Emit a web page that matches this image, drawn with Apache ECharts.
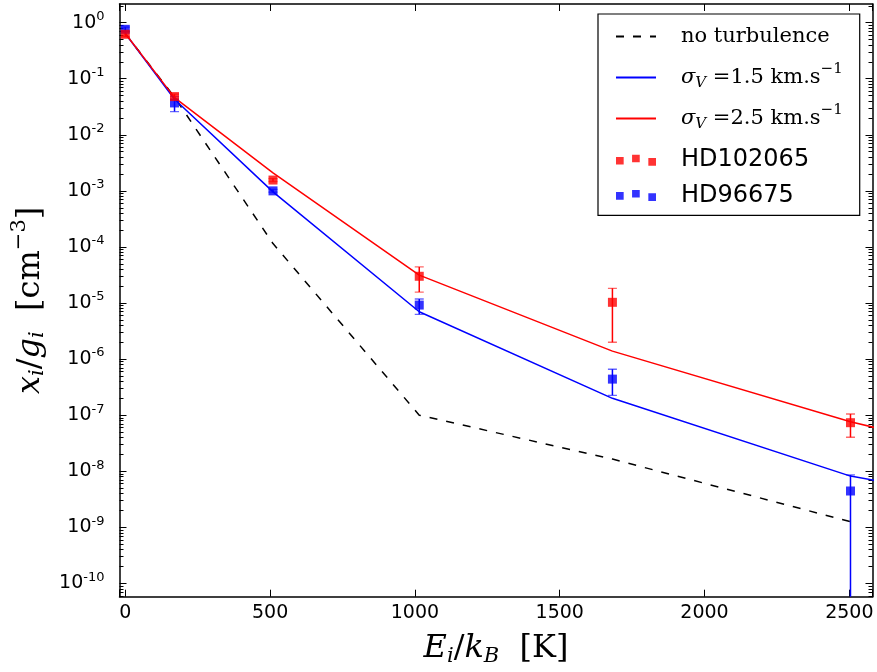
<!DOCTYPE html>
<html><head><meta charset="utf-8">
<script src="https://cdn.jsdelivr.net/npm/echarts@6/dist/echarts.min.js"></script>
<style>html,body{margin:0;padding:0;background:#fff}#c{width:877px;height:672px}</style>
</head><body><div id="c"></div>
<script>
// ---- data ----
const levelEnergies = [0, 170, 510, 1015, 1682, 2504, 3474];
const noTurbulence = [0.64, 0.047, 1.15e-4, 1.0e-7, 1.65e-8, 1.26e-9];
const sigma15 = [0.64, 0.043, 9.6e-4, 7.0e-6, 2.0e-7, 8.2e-9, 1.1e-9];
const sigma25 = [0.64, 0.046, 2.1e-3, 3.15e-5, 1.39e-6, 7.66e-8, 4.7e-9];

const obsEnergies = [0, 170, 510, 1015, 1682, 2504];
const hd102065 = [0.62, 0.048, 1.56e-3, 3.0e-5, 1.03e-5, 7.35e-8];
const hd102065Lo = [0.56, 0.043, 1.47e-3, 1.57e-5, 2.0e-6, 4.04e-8];
const hd102065Hi = [0.685, 0.053, 1.66e-3, 4.4e-5, 1.83e-5, 1.05e-7];
const hd96675 = [0.76, 0.037, 1.0e-3, 9.2e-6, 4.4e-7, 4.45e-9];
const hd96675Lo = [0.70, 0.026, 0.95e-3, 6.3e-6, 2.26e-7, 1e-13];
const hd96675Hi = [0.83, 0.048, 1.06e-3, 1.18e-5, 6.6e-7, 8.6e-9];

// tick definitions
const yMajorExponents = [-10, -9, -8, -7, -6, -5, -4, -3, -2, -1, 0];
const yMinorMultipliers = [2, 3, 4, 5, 6, 7, 8, 9];
const yMinorDecades = [-11, -10, -9, -8, -7, -6, -5, -4, -3, -2, -1, 0];
const xTickStep = 500;
const xMin = -20, xMax = 2580;
const yMin = 5.8e-11, yMax = 2.15;

// ---- build ----
const pairs = (xs, ys) => ys.map((y, i) => [xs[i], y]);
const triples = (xs, lo, hi) => xs.map((x, i) => [x, lo[i], hi[i]]);
const yMajorValues = yMajorExponents.map(e => Math.pow(10, e));
const yMinorValues = [];
yMinorDecades.forEach(d => yMinorMultipliers.forEach(m => {
  const v = m * Math.pow(10, d);
  if (v > yMin && v < yMax) yMinorValues.push(v);
}));

function errRender(color) {
  return function (params, api) {
    const x = api.value(0), lo = api.value(1), hi = api.value(2);
    const t = api.coord([x, hi]), b = api.coord([x, lo]);
    const hw = 4.5;
    return {
      type: 'group',
      children: [
        {type: 'line', shape: {x1: t[0], y1: t[1], x2: b[0], y2: b[1]}, style: {stroke: color, lineWidth: 1.5}},
        {type: 'line', shape: {x1: t[0] - hw, y1: t[1], x2: t[0] + hw, y2: t[1]}, style: {stroke: color, lineWidth: 1.3, opacity: 0.6}},
        {type: 'line', shape: {x1: b[0] - hw, y1: b[1], x2: b[0] + hw, y2: b[1]}, style: {stroke: color, lineWidth: 1.3, opacity: 0.6}}
      ]
    };
  };
}

const tickFont = {fontFamily: 'DejaVu Sans', color: '#000'};
const axisLineStyle = {color: '#000', width: 1.5};

function yLabel(v) {
  const e = Math.log10(v);
  const r = Math.round(e);
  if (Math.abs(e - r) > 1e-6) return '';
  return '{b|10}{s|' + (r === 0 ? '0' : '-' + (-r)) + '}';
}
function xLabel(v) {
  return (Math.abs(v % xTickStep) < 1e-9) ? String(v) : '';
}

const serif = 'DejaVu Serif';
const nameRich = {
  it: {fontFamily: serif, fontStyle: 'italic', fontSize: 32, color: '#000'},
  n: {fontFamily: serif, fontSize: 32, color: '#000'},
  sub: {fontFamily: serif, fontStyle: 'italic', fontSize: 21, color: '#000', padding: [15, 0, 0, 0]},
  sup: {fontFamily: serif, fontSize: 21, color: '#000', padding: [0, 0, 22, 0]}
};

const yAxisBase = {
  type: 'log', logBase: 10, min: yMin, max: yMax,
  axisLine: {show: true, onZero: false, lineStyle: axisLineStyle},
  axisTick: {show: true, inside: true, length: 7, customValues: yMajorValues, lineStyle: {color: '#000', width: 1}},
  splitLine: {show: false}
};
const yMinorAxisBase = {
  type: 'log', logBase: 10, min: yMin, max: yMax,
  axisLine: {show: false, onZero: false},
  axisTick: {show: true, inside: true, length: 4, customValues: yMinorValues, lineStyle: {color: '#000', width: 1}},
  axisLabel: {show: false},
  splitLine: {show: false}
};
const xAxisBase = {
  type: 'value', min: xMin, max: xMax, splitNumber: 5,
  axisLine: {show: true, onZero: false, lineStyle: axisLineStyle},
  axisTick: {show: true, inside: true, length: 7, lineStyle: {color: '#000', width: 1}},
  splitLine: {show: false}
};

const legendNames = {
  'no turbulence': '{g| }{n|no turbulence}',
  'sigma15': '{g| }{it|σ}{sub|V}{n| =1.5 km.s}{sup|−1}',
  'sigma25': '{g| }{it|σ}{sub|V}{n| =2.5 km.s}{sup|−1}',
  'HD102065': '{g| }{sans|HD102065}',
  'HD96675': '{g| }{sans|HD96675}'
};
const squaresIcon = 'path://M0 2.4h8.3v8.3h-8.3z M17.4 0h8.3v8.3h-8.3z M35 3.6h8.3v8.3h-8.3z';
const hiddenSymbol = {color: 'transparent', borderWidth: 0, opacity: 0};

const option = {
  animation: false,
  backgroundColor: '#fff',
  grid: {left: 119.5, right: 4.5, top: 4, bottom: 75.3, containLabel: false, outerBoundsMode: 'none'},
  xAxis: [
    Object.assign({}, xAxisBase, {
      position: 'bottom',
      axisLabel: Object.assign({fontSize: 19, margin: 7, formatter: xLabel}, tickFont),
      name: '{it|E}{sub|i}{n|/}{it|k}{sub|B}{n|  [K]}',
      nameLocation: 'middle', nameGap: 33,
      nameTextStyle: {lineHeight: 38, rich: nameRich}
    }),
    Object.assign({}, xAxisBase, {position: 'top', axisLabel: {show: false}})
  ],
  yAxis: [
    Object.assign({}, yAxisBase, {
      position: 'left',
      axisLabel: {formatter: yLabel, margin: 15, align: 'right', customValues: yMajorValues, rich: {
        b: Object.assign({fontSize: 19}, tickFont),
        s: Object.assign({fontSize: 13, padding: [0, 0, 12, 0]}, tickFont)
      }},
      name: '{it|x}{sub|i}{n|/}{it|g}{sub|i}{n|  [cm}{sup|−3}{n|]}',
      nameLocation: 'middle', nameGap: 66, nameRotate: 90,
      nameTextStyle: {lineHeight: 36, rich: nameRich}
    }),
    Object.assign({}, yAxisBase, {position: 'right', axisLabel: {show: false}}),
    Object.assign({}, yMinorAxisBase, {position: 'left'}),
    Object.assign({}, yMinorAxisBase, {position: 'right'})
  ],
  legend: {
    orient: 'vertical', left: 598, top: 14,
    padding: [2, 17, 6, 17], itemGap: 0, itemWidth: 40, itemHeight: 12,
    borderColor: '#000', borderWidth: 1.2, borderRadius: 0, backgroundColor: '#fff',
    selectedMode: false,
    formatter: n => legendNames[n],
    textStyle: {fontFamily: serif, fontSize: 21, color: '#000', rich: {
      g: {width: 20},
      n: {fontFamily: serif, fontSize: 21, color: '#000'},
      it: {fontFamily: serif, fontStyle: 'italic', fontSize: 21, color: '#000'},
      sub: {fontFamily: serif, fontStyle: 'italic', fontSize: 15, color: '#000', padding: [12, 0, 0, 0]},
      sup: {fontFamily: serif, fontSize: 15, color: '#000', padding: [0, 0, 16, 0]},
      sans: {fontFamily: 'DejaVu Sans', fontSize: 24, color: '#000'}
    }},
    data: [
      {name: 'no turbulence', itemStyle: hiddenSymbol, textStyle: {lineHeight: 41}},
      {name: 'sigma15', itemStyle: hiddenSymbol, textStyle: {lineHeight: 41}},
      {name: 'sigma25', itemStyle: hiddenSymbol, textStyle: {lineHeight: 41}},
      {name: 'HD102065', icon: squaresIcon, textStyle: {lineHeight: 42.4}},
      {name: 'HD96675', icon: squaresIcon, textStyle: {lineHeight: 28}}
    ]
  },
  series: [
    {name: 'no turbulence', type: 'line', data: pairs(levelEnergies, noTurbulence), symbol: 'none', clip: true, z: 2,
      lineStyle: {color: '#000', width: 1.5, type: [8, 9]}, itemStyle: {color: '#000'}},
    {name: 'sigma15', type: 'line', data: pairs(levelEnergies, sigma15), symbol: 'none', clip: true, z: 2,
      lineStyle: {color: '#0000ff', width: 1.5}, itemStyle: {color: '#0000ff'}},
    {name: 'sigma25', type: 'line', data: pairs(levelEnergies, sigma25), symbol: 'none', clip: true, z: 2,
      lineStyle: {color: '#ff0000', width: 1.5}, itemStyle: {color: '#ff0000'}},
    {name: 'errBlue', type: 'custom', renderItem: errRender('#0000ff'), clip: true, z: 3,
      encode: {x: 0, y: [1, 2]}, data: triples(obsEnergies, hd96675Lo, hd96675Hi)},
    {name: 'errRed', type: 'custom', renderItem: errRender('#ff0000'), clip: true, z: 3,
      encode: {x: 0, y: [1, 2]}, data: triples(obsEnergies, hd102065Lo, hd102065Hi)},
    {name: 'HD96675', type: 'scatter', data: pairs(obsEnergies, hd96675), symbol: 'rect', symbolSize: 9, z: 4,
      itemStyle: {color: '#0000ff'}},
    {name: 'HD102065', type: 'scatter', data: pairs(obsEnergies, hd102065), symbol: 'rect', symbolSize: 9, z: 4,
      itemStyle: {color: '#ff0000'}}
  ]
};

const chart = echarts.init(document.getElementById('c'), null, {renderer: 'canvas'});
chart.setOption(option);
</script>
</body></html>
